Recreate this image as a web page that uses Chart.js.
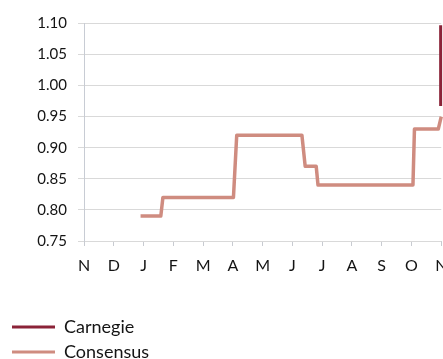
<!DOCTYPE html>
<html>
<head>
<meta charset="utf-8">
<script src="https://cdn.jsdelivr.net/npm/chart.js@4"></script>
<style>
  html, body { margin: 0; padding: 0; background: #ffffff; overflow: hidden; }
  #wrap { width: 443px; height: 359px; }
</style>
</head>
<body>
<div id="wrap"><canvas id="c" width="443" height="359"></canvas></div>
<script>
// ---- data ----
const monthLabels = ['N','D','J','F','M','A','M','J','J','A','S','O','N'];
const yTickValues = [0.75, 0.80, 0.85, 0.90, 0.95, 1.00, 1.05, 1.10];
const consensusX = [1.9, 2.58, 2.65, 5.02, 5.13, 7.32, 7.43, 7.80, 7.86, 11.05, 11.10, 11.90, 12.0];
const consensusY = [0.79, 0.79, 0.82, 0.82, 0.92, 0.92, 0.87, 0.87, 0.84, 0.84, 0.93, 0.93, 0.95];
const carnegieX = [11.98, 11.98];
const carnegieY = [0.967, 1.097];
const seriesNames = ['Carnegie', 'Consensus'];

const toPoints = (xs, ys) => xs.map((x, i) => ({ x: x, y: ys[i] }));

const FONT = 'Lato';
const TEXT = '#141414';
const LEGEND_HEIGHT = 48;

const config = {
  type: 'line',
  data: {
    datasets: [
      {
        label: seriesNames[0],
        data: toPoints(carnegieX, carnegieY),
        borderColor: '#8b2338',
        backgroundColor: '#8b2338',
        borderWidth: 3,
        pointRadius: 0,
        tension: 0,
        fill: false,
        clip: 6
      },
      {
        label: seriesNames[1],
        data: toPoints(consensusX, consensusY),
        borderColor: '#cf8c80',
        backgroundColor: '#cf8c80',
        borderWidth: 3.5,
        borderJoinStyle: 'round',
        pointRadius: 0,
        tension: 0,
        fill: false,
        clip: 6
      }
    ]
  },
  options: {
    responsive: false,
    animation: false,
    devicePixelRatio: 1,
    layout: { padding: { left: 5, right: 1.5, top: 23.3, bottom: 0 } },
    scales: {
      x: {
        type: 'linear',
        min: 0,
        max: 12,
        grid: { display: true, drawOnChartArea: false, drawTicks: true, tickLength: 5, color: '#c8cbd1' },
        border: { display: false },
        ticks: {
          stepSize: 1,
          autoSkip: false,
          maxRotation: 0,
          padding: 10,
          color: TEXT,
          font: { family: FONT, size: 16 },
          callback: (v) => monthLabels[v]
        },
        afterFit: (s) => { s.paddingLeft = 0; s.paddingRight = 0; s.height = 70; }
      },
      y: {
        min: yTickValues[0],
        max: yTickValues[yTickValues.length - 1],
        grid: { color: '#d9d9d9', tickLength: 6 },
        border: { display: true, color: '#c8ccd4' },
        ticks: {
          stepSize: 0.05,
          padding: 11,
          color: TEXT,
          font: { family: FONT, size: 15 },
          callback: (v) => Number(v).toFixed(2)
        },
        afterBuildTicks: (s) => { s.ticks = yTickValues.map(v => ({ value: v })); },
        afterFit: (s) => { s.paddingTop = 0; s.paddingBottom = 0; s.width = 79; }
      }
    },
    plugins: {
      legend: {
        display: true,
        position: 'bottom',
        align: 'start',
        labels: {
          usePointStyle: true,
          pointStyle: 'line',
          pointStyleWidth: 43,
          padding: 7,
          color: TEXT,
          font: { family: FONT, size: 18 },
          generateLabels: (chart) => chart.data.datasets.map((d, i) => ({
            text: d.label,
            fillStyle: d.borderColor,
            strokeStyle: d.borderColor,
            lineWidth: 3,
            pointStyle: 'line',
            fontColor: TEXT,
            hidden: false,
            datasetIndex: i
          }))
        }
      },
      tooltip: { enabled: false }
    }
  }
};

const chart = new Chart(document.getElementById('c'), config);

// Stack legend entries one per row, as in the reference.
const lg = chart.legend;
const fitOrig = lg.fit;
lg.fit = function () {
  const mw = this.maxWidth;
  this.maxWidth = 1;
  fitOrig.call(this);
  this.maxWidth = mw;
  this.width = mw;
  this.height = LEGEND_HEIGHT;
};
const drawOrig = lg._draw;
lg._draw = function () {
  const r = this.right;
  this.right = this.left + 1;
  drawOrig.call(this);
  this.right = r;
};
chart.update();
</script>
</body>
</html>
